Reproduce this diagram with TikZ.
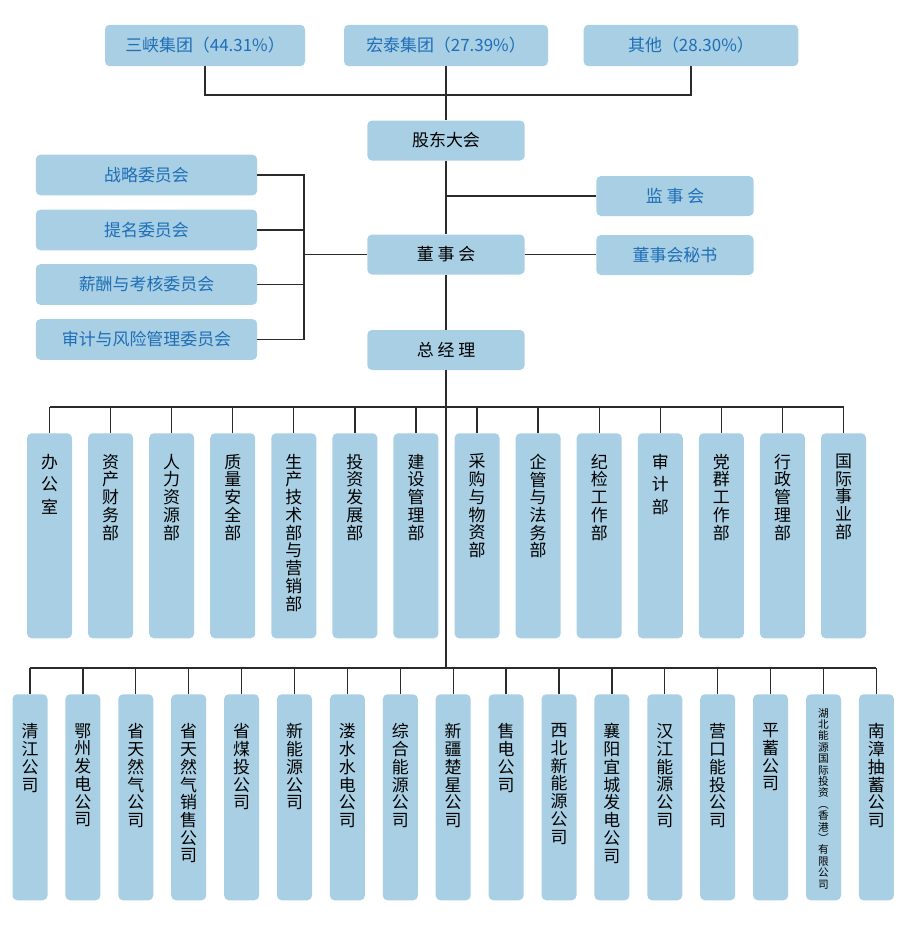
\documentclass[tikz,border=0pt]{standalone}
\usepackage{fontspec}
\setmainfont{Noto Sans CJK SC}
\usetikzlibrary{positioning}
\definecolor{boxblue}{HTML}{A8CFE3}
\definecolor{textblue}{HTML}{1E6EB8}
\definecolor{linegray}{HTML}{2B2B2B}
\newcommand\cnfont{\fontsize{12.7}{13.3}\selectfont}
\newcommand\cnsmall{\fontsize{8}{8.55}\selectfont}

\begin{document}
\begin{tikzpicture}[x=0.75pt, y=-0.75pt,
  box/.style={fill=boxblue, rounded corners=3.5pt, inner sep=0pt, font=\cnfont},
  owner/.style={box, minimum height=31pt, text=textblue},
  head/.style={box, minimum width=118pt, minimum height=30pt},
  cmte/.style={box, minimum width=166pt, minimum height=30.5pt, text=textblue},
  side/.style={box, minimum width=118pt, minimum height=30pt, text=textblue},
  dept/.style={box, anchor=north, minimum width=33.75pt, minimum height=153.75pt},
  firm/.style={box, anchor=north, minimum width=26.25pt, minimum height=154.5pt},
  vlabel/.style={anchor=north, align=center, inner sep=0pt, font=\cnfont},
  vsmall/.style={anchor=north, align=center, inner sep=0pt, font=\cnsmall},
  link/.style={draw=linegray, line width=1pt}
]
\useasboundingbox (0,0) rectangle (900,925);
\def\yDept{433} \def\yFirm{694}

% shareholders
\node[owner, minimum width=150pt] (sx) at (205,45.5) {三峡集团（44.31\%）};
\node[owner, minimum width=153pt] (ht) at (446,45.5) {宏泰集团（27.39\%）};
\node[owner, minimum width=161pt] (qt) at (691,45.5) {其他（28.30\%）};

% governance
\node[head] (gd) at (446,140.5) {股东大会};
\node[head] (dsh) at (446,254.5) {董 事 会};
\node[head] (zjl) at (446,350) {总 经 理};
\node[side] (jsh) at (675,196) {监 事 会};
\node[side] (ms) at (675,255) {董事会秘书};

\node[cmte] (c1) at (146.5,175) {战略委员会};
\node[cmte] (c2) at (146.5,230) {提名委员会};
\node[cmte] (c3) at (146.5,284.5) {薪酬与考核委员会};
\node[cmte] (c4) at (146.5,339.5) {审计与风险管理委员会};

\coordinate (jtop) at (446,95);
\coordinate (jcom) at (304,254.5);
\coordinate (jdept) at (446,407);
\coordinate (jfirm) at (446,668);

\draw[link] (sx.south) |- (jtop) -| (qt.south);
\draw[link] (ht.south) -- (gd.north);
\draw[link] (gd.south) -- (dsh.north);
\draw[link] (jsh.west) -- (jsh.west -| gd.south);
\draw[link] (dsh.east) -- (dsh.east -| ms.west);
\foreach \i in {1,...,4}
  \draw[link] (c\i.east) -| (jcom);
\draw[link] (jcom) -- (dsh.west);
\draw[link] (dsh.south) -- (zjl.north);
\draw[link] (zjl.south) -- (jfirm);

% departments
\foreach \i/\txt in {1/{办\\[3.6pt]公\\[3.6pt]室}, 2/{资\\产\\财\\务\\部}, 3/{人\\力\\资\\源\\部},
    4/{质\\量\\安\\全\\部}, 5/{生\\产\\技\\术\\部\\与\\营\\销\\部}, 6/{投\\资\\发\\展\\部},
    7/{建\\设\\管\\理\\部}, 8/{采\\购\\与\\物\\资\\部}, 9/{企\\管\\与\\法\\务\\部},
    10/{纪\\检\\工\\作\\部}, 11/{审\\[3.6pt]计\\[3.6pt]部}, 12/{党\\群\\工\\作\\部},
    13/{行\\政\\管\\理\\部}, 14/{国\\际\\事\\业\\部}} {
  \pgfmathsetmacro\xx{49.5+61.08*(\i-1)}
  \node[dept] (d\i) at (\xx,\yDept) {};
  \node[vlabel, below=15.5pt of d\i.north] (dt\i) {\txt};
  \draw[link] (d\i.north) -- (d\i.north |- jdept);
}
\draw[link] (d1.north |- jdept) -- (d14.north |- jdept);

% companies
\foreach \i/\txt in {1/{清\\江\\公\\司}, 2/{鄂\\州\\发\\电\\公\\司}, 3/{省\\天\\然\\气\\公\\司},
    4/{省\\天\\然\\气\\销\\售\\公\\司}, 5/{省\\煤\\投\\公\\司}, 6/{新\\能\\源\\公\\司},
    7/{溇\\水\\水\\电\\公\\司}, 8/{综\\合\\能\\源\\公\\司}, 9/{新\\疆\\楚\\星\\公\\司},
    10/{售\\电\\公\\司}, 11/{西\\北\\新\\能\\源\\公\\司}, 12/{襄\\阳\\宜\\城\\发\\电\\公\\司},
    13/{汉\\江\\能\\源\\公\\司}, 14/{营\\口\\能\\投\\公\\司}, 15/{平\\蓄\\公\\司},
    17/{南\\漳\\抽\\蓄\\公\\司}} {
  \pgfmathsetmacro\xx{30+52.9*(\i-1)}
  \node[firm] (f\i) at (\xx,\yFirm) {};
  \node[vlabel, below=22pt of f\i.north] (ft\i) {\txt};
}
\node[firm] (f16) at (30+52.9*15,\yFirm) {};
\node[vsmall, below=10.5pt of f16.north] (ft16)
  {湖\\北\\能\\源\\国\\际\\投\\资\\︵\\香\\港\\︶\\有\\限\\公\\司};
\foreach \i in {1,...,17}
  \draw[link] (f\i.north) -- (f\i.north |- jfirm);
\draw[link] (f1.north |- jfirm) -- (f17.north |- jfirm);
\end{tikzpicture}
\end{document}
